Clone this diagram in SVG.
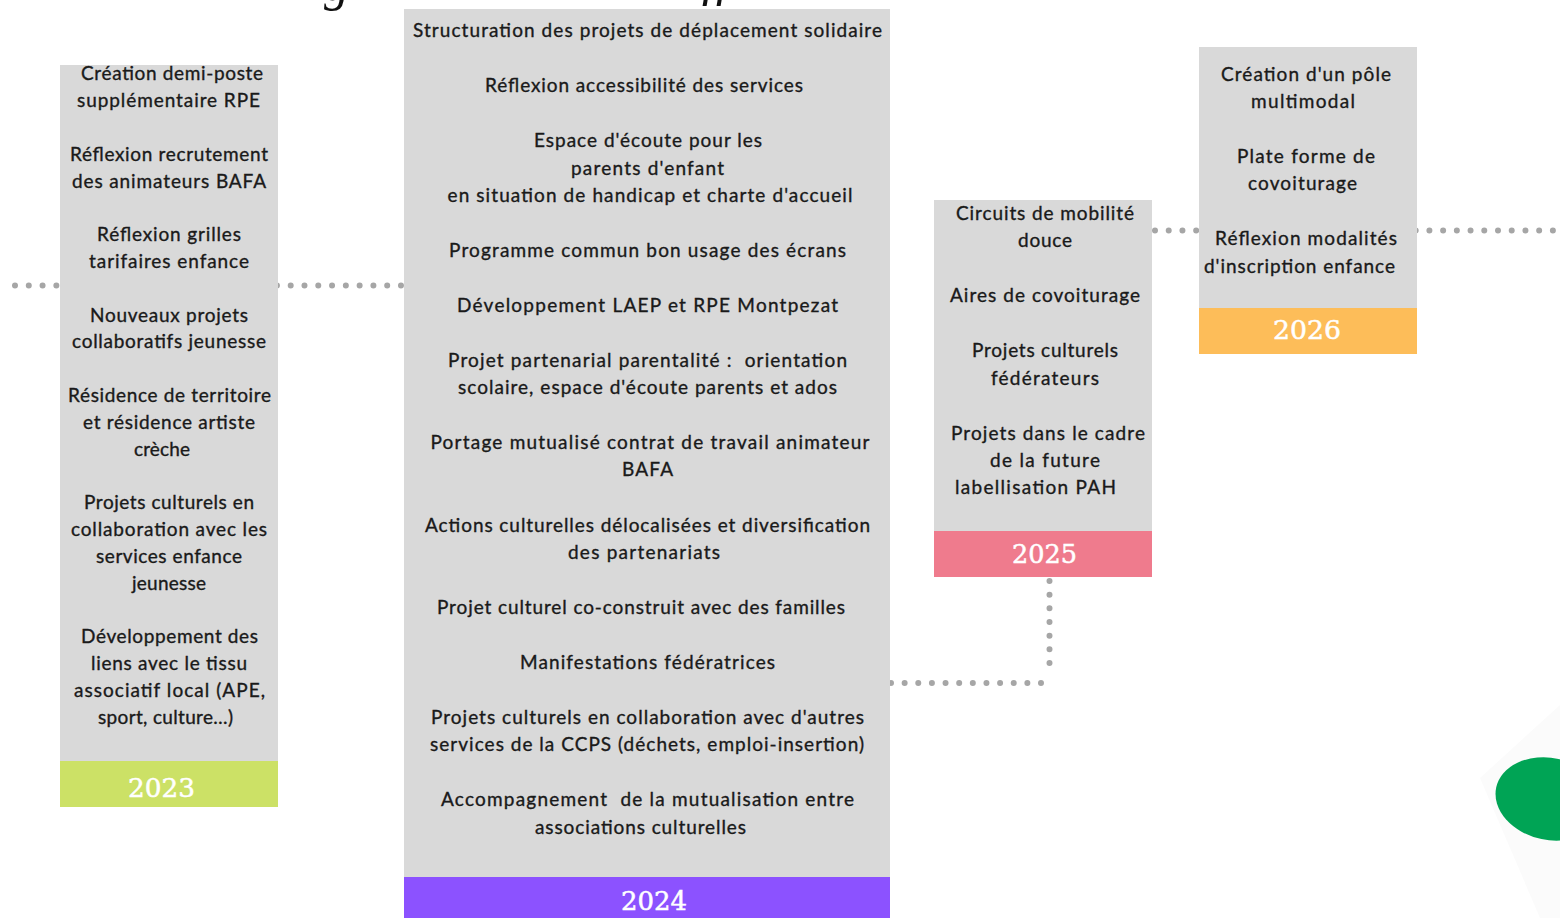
<svg xmlns="http://www.w3.org/2000/svg" width="1560" height="918" viewBox="0 0 1560 918">
<style>
.box{fill:#d9d9d9}
.t{font-family:Lato,"Noto Sans","Liberation Sans",sans-serif;font-size:19px;fill:#1a1a1a;stroke:#1a1a1a;stroke-width:0.35;text-anchor:middle;white-space:pre}
.yr{font-family:"DejaVu Serif","Liberation Serif",serif;font-size:26px;fill:#ffffff;stroke:#ffffff;stroke-width:0.5;text-anchor:middle}
.dot{fill:none;stroke:#a6a6a6;stroke-width:6;stroke-linecap:round}
.frag{font-family:"Liberation Serif",serif;font-style:italic;font-size:50px;fill:#111}
</style>
<rect width="1560" height="918" fill="#ffffff"/>
<polygon points="1480,778 1560,705 1560,918 1540,918" fill="#fbfbfb"/>
<ellipse cx="1550" cy="799" rx="55" ry="41" transform="rotate(12 1550 799)" fill="#00a455"/>
<text class="frag" x="324" y="0">g</text>
<text class="frag" x="702" y="-5">ff</text>
<g id="connectors">
<line class="dot" x1="15" y1="285.5" x2="401" y2="285.5" stroke-dasharray="0 13.785"/>
<line class="dot" x1="1155" y1="230.5" x2="1562" y2="230.5" stroke-dasharray="0 13.72"/>
<line class="dot" x1="1049.5" y1="581" x2="1049.5" y2="664" stroke-dasharray="0 13.67"/>
<line class="dot" x1="891" y1="683" x2="1042" y2="683" stroke-dasharray="0 13.636"/>
</g>
<g id="node-2023">
<rect class="box" x="60" y="65" width="218" height="696"/>
<rect x="60" y="761" width="218" height="46" fill="#cce166"/>
<text class="yr" x="161.5" y="797" textLength="67" lengthAdjust="spacingAndGlyphs">2023</text>
<text class="t" x="172" y="80" textLength="182">Création demi-poste</text>
<text class="t" x="168.5" y="107" textLength="183">supplémentaire RPE</text>
<text class="t" x="169" y="161" textLength="198">Réflexion recrutement</text>
<text class="t" x="169" y="188" textLength="194">des animateurs BAFA</text>
<text class="t" x="169" y="241" textLength="144">Réflexion grilles</text>
<text class="t" x="169" y="268" textLength="160">tarifaires enfance</text>
<text class="t" x="169" y="322" textLength="158">Nouveaux projets</text>
<text class="t" x="169" y="348" textLength="194">collaboratifs jeunesse</text>
<text class="t" x="169.5" y="402" textLength="203">Résidence de territoire</text>
<text class="t" x="169" y="429" textLength="172">et résidence artiste</text>
<text class="t" x="162" y="456" textLength="56">crèche</text>
<text class="t" x="169" y="509" textLength="170">Projets culturels en</text>
<text class="t" x="169" y="536" textLength="196">collaboration avec les</text>
<text class="t" x="169" y="563" textLength="146">services enfance</text>
<text class="t" x="169" y="590" textLength="74">jeunesse</text>
<text class="t" x="169.5" y="643" textLength="177">Développement des</text>
<text class="t" x="169" y="670" textLength="156">liens avec le tissu</text>
<text class="t" x="169.5" y="697" textLength="191">associatif local (APE,</text>
<text class="t" x="165.5" y="724" textLength="135">sport, culture…)</text>
</g>
<g id="node-2024">
<rect class="box" x="404" y="9" width="486" height="868"/>
<rect x="404" y="877" width="486" height="41" fill="#8c52ff"/>
<text class="yr" x="654" y="910" textLength="66" lengthAdjust="spacingAndGlyphs">2024</text>
<text class="t" x="647.5" y="37" textLength="469">Structuration des projets de déplacement solidaire</text>
<text class="t" x="644" y="92" textLength="318">Réflexion accessibilité des services</text>
<text class="t" x="648" y="147" textLength="228">Espace d'écoute pour les</text>
<text class="t" x="647.5" y="175" textLength="153">parents d'enfant</text>
<text class="t" x="650" y="202" textLength="405">en situation de handicap et charte d'accueil</text>
<text class="t" x="647.5" y="257" textLength="397">Programme commun bon usage des écrans</text>
<text class="t" x="647.5" y="312" textLength="381">Développement LAEP et RPE Montpezat</text>
<text class="t" x="647.5" y="367" textLength="399">Projet partenarial parentalité :  orientation</text>
<text class="t" x="647.5" y="394" textLength="379">scolaire, espace d'écoute parents et ados</text>
<text class="t" x="650" y="449" textLength="439">Portage mutualisé contrat de travail animateur</text>
<text class="t" x="647.5" y="476" textLength="51">BAFA</text>
<text class="t" x="647.5" y="532" textLength="445">Actions culturelles délocalisées et diversification</text>
<text class="t" x="644" y="559" textLength="152">des partenariats</text>
<text class="t" x="641" y="614" textLength="408">Projet culturel co-construit avec des familles</text>
<text class="t" x="647.5" y="669" textLength="255">Manifestations fédératrices</text>
<text class="t" x="647.5" y="724" textLength="433">Projets culturels en collaboration avec d'autres</text>
<text class="t" x="647" y="751" textLength="434">services de la CCPS (déchets, emploi-insertion)</text>
<text class="t" x="647.5" y="806" textLength="413">Accompagnement  de la mutualisation entre</text>
<text class="t" x="640.5" y="834" textLength="211">associations culturelles</text>
</g>
<g id="node-2025">
<rect class="box" x="934" y="200" width="218" height="331"/>
<rect x="934" y="531" width="218" height="46" fill="#ef7b8d"/>
<text class="yr" x="1044.5" y="563" textLength="65" lengthAdjust="spacingAndGlyphs">2025</text>
<text class="t" x="1045" y="220" textLength="178">Circuits de mobilité</text>
<text class="t" x="1045" y="247" textLength="54">douce</text>
<text class="t" x="1045" y="302" textLength="190">Aires de covoiturage</text>
<text class="t" x="1045" y="357" textLength="146">Projets culturels</text>
<text class="t" x="1045" y="385" textLength="108">fédérateurs</text>
<text class="t" x="1048" y="440" textLength="194">Projets dans le cadre</text>
<text class="t" x="1045" y="467" textLength="110">de la future</text>
<text class="t" x="1035.5" y="494" textLength="161">labellisation PAH</text>
</g>
<g id="node-2026">
<rect class="box" x="1199" y="47" width="218" height="261"/>
<rect x="1199" y="308" width="218" height="46" fill="#fdbd59"/>
<text class="yr" x="1307" y="339" textLength="68" lengthAdjust="spacingAndGlyphs">2026</text>
<text class="t" x="1306" y="81" textLength="170">Création d'un pôle</text>
<text class="t" x="1303" y="108" textLength="104">multimodal</text>
<text class="t" x="1306" y="163" textLength="138">Plate forme de</text>
<text class="t" x="1302.5" y="190" textLength="109">covoiturage</text>
<text class="t" x="1306" y="245" textLength="182">Réflexion modalités</text>
<text class="t" x="1299.5" y="273" textLength="191">d'inscription enfance</text>
</g>
</svg>
